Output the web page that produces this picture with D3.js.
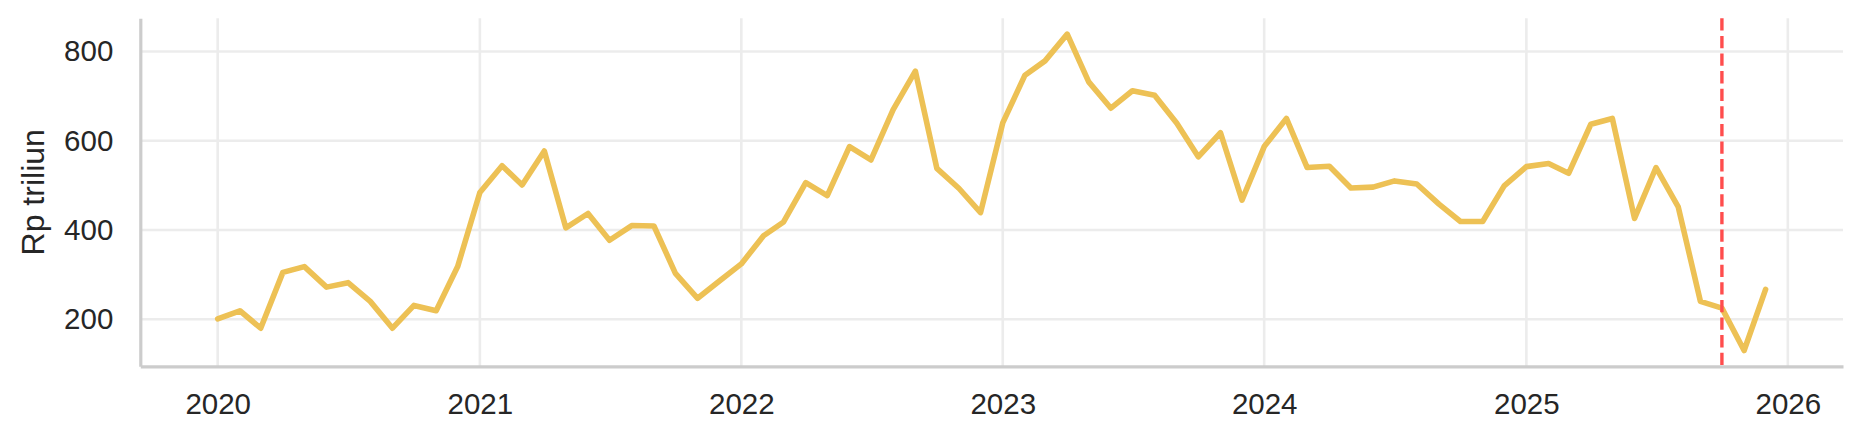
<!DOCTYPE html>
<html>
<head>
<meta charset="utf-8">
<script src="https://cdn.jsdelivr.net/npm/d3@7"></script>
<style>
  html, body { margin: 0; padding: 0; background: #ffffff; }
  svg { display: block; }
  text { font-family: "Liberation Sans", Arial, sans-serif; }
</style>
</head>
<body>
<svg id="chart" width="1864" height="441"></svg>
<script>
// ---- Data (monthly, Rp triliun) ----
const months = [
  "2020-01","2020-02","2020-03","2020-04","2020-05","2020-06","2020-07","2020-08","2020-09","2020-10","2020-11","2020-12",
  "2021-01","2021-02","2021-03","2021-04","2021-05","2021-06","2021-07","2021-08","2021-09","2021-10","2021-11","2021-12",
  "2022-01","2022-02","2022-03","2022-04","2022-05","2022-06","2022-07","2022-08","2022-09","2022-10","2022-11","2022-12",
  "2023-01","2023-02","2023-03","2023-04","2023-05","2023-06","2023-07","2023-08","2023-09","2023-10","2023-11","2023-12",
  "2024-01","2024-02","2024-03","2024-04","2024-05","2024-06","2024-07","2024-08","2024-09","2024-10","2024-11","2024-12",
  "2025-01","2025-02","2025-03","2025-04","2025-05","2025-06","2025-07","2025-08","2025-09","2025-10","2025-11","2025-12"
];
const values = [
  201, 219, 180, 305, 318, 272, 282, 240, 180, 231, 219, 318,
  484, 544, 501, 577, 405, 437, 377, 410, 409, 303, 247, 285,
  324, 387, 418, 506, 477, 587, 557, 670, 756, 538, 493, 439,
  640, 747, 779, 839, 732, 673, 712, 702, 639, 564, 618, 467,
  587, 650, 540, 543, 494, 496, 510, 503, 458, 419, 419, 499,
  542, 549, 527, 637, 650, 426, 540, 452, 240, 225, 130, 267
];
const markerDate = "2025-10";
const yTicks = [200, 400, 600, 800];
const xTickYears = ["2020","2021","2022","2023","2024","2025","2026"];
const yLabel = "Rp triliun";

// ---- Setup ----
const W = 1864, H = 441;
const plot = { left: 140.3, right: 1843, top: 18.3, bottom: 366.3 };
const parseM = d3.timeParse("%Y-%m");
const parseY = d3.timeParse("%Y");
const data = months.map((m, i) => ({ date: parseM(m), value: values[i] }));

const xExt = d3.extent(data, d => d.date);
const xPad = (xExt[1] - xExt[0]) * 0.05;
const x = d3.scaleTime()
  .domain([new Date(+xExt[0] - xPad), new Date(+xExt[1] + xPad)])
  .range([plot.left, plot.right]);

const yExt = d3.extent(values);
const yPad = (yExt[1] - yExt[0]) * 0.05;
const y = d3.scaleLinear()
  .domain([yExt[0] - yPad, yExt[1] + yPad])
  .range([plot.bottom, plot.top]);

const svg = d3.select("#chart");
svg.append("rect").attr("width", W).attr("height", H).attr("fill", "#ffffff");

const xTicks = xTickYears.map(parseY);

// ---- Grid ----
const grid = svg.append("g").attr("class", "grid");
grid.selectAll("line.h").data(yTicks).join("line")
  .attr("x1", plot.left).attr("x2", plot.right)
  .attr("y1", d => y(d)).attr("y2", d => y(d))
  .attr("stroke", "#ececec").attr("stroke-width", 2.6);
grid.selectAll("line.v").data(xTicks).join("line")
  .attr("y1", plot.top).attr("y2", plot.bottom)
  .attr("x1", d => x(d)).attr("x2", d => x(d))
  .attr("stroke", "#ececec").attr("stroke-width", 2.6);

// ---- Line ----
const line = d3.line().x(d => x(d.date)).y(d => y(d.value));
svg.append("path").datum(data)
  .attr("d", line)
  .attr("fill", "none")
  .attr("stroke", "#edc155")
  .attr("stroke-width", 5.6)
  .attr("stroke-linejoin", "round")
  .attr("stroke-linecap", "round");

// ---- Marker line ----
const md = parseM(markerDate);
svg.append("line")
  .attr("x1", x(md)).attr("x2", x(md))
  .attr("y1", plot.top).attr("y2", plot.bottom)
  .attr("stroke", "#ff4d4d")
  .attr("stroke-width", 3.4)
  .attr("stroke-dasharray", "12.3,5.3");

// ---- Axes ----
const xAxis = d3.axisBottom(x).tickValues(xTicks).tickFormat(d3.timeFormat("%Y"))
  .tickSize(0).tickPadding(27);
const gx = svg.append("g").attr("transform", `translate(0,${plot.bottom})`).call(xAxis);
gx.select(".domain").attr("stroke", "#cccccc").attr("stroke-width", 3.2);
gx.selectAll("text").attr("font-size", 29.5).attr("fill", "#262626")
  .attr("font-family", "'Liberation Sans', Arial, sans-serif");

const yAxis = d3.axisLeft(y).tickValues(yTicks).tickSize(0).tickPadding(27);
const gy = svg.append("g").attr("transform", `translate(${plot.left},0)`).call(yAxis);
gy.select(".domain").attr("stroke", "#cccccc").attr("stroke-width", 3.2);
gy.selectAll("text").attr("font-size", 29.5).attr("fill", "#262626")
  .attr("font-family", "'Liberation Sans', Arial, sans-serif");

// ---- Y label ----
svg.append("text")
  .attr("transform", `translate(44,${(plot.top + plot.bottom) / 2}) rotate(-90)`)
  .attr("text-anchor", "middle")
  .attr("font-size", 32)
  .attr("fill", "#262626")
  .text(yLabel);
</script>
</body>
</html>
